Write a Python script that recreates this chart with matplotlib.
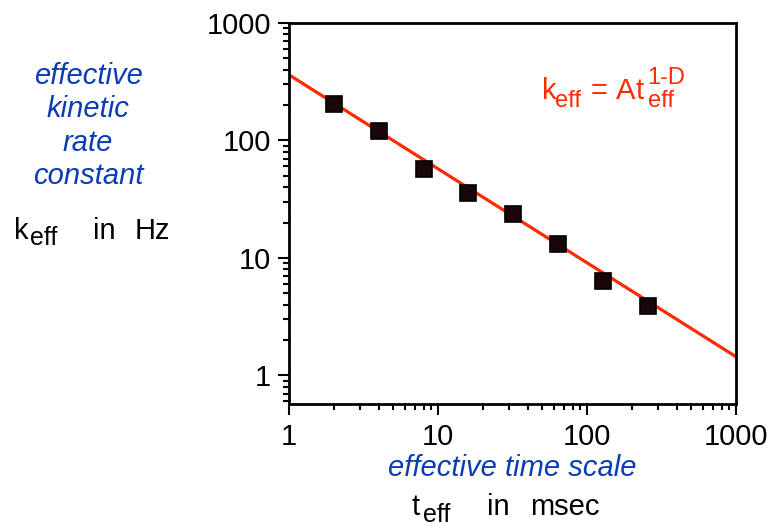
import matplotlib
matplotlib.use("Agg")
import matplotlib.pyplot as plt

# data
t_eff = [2, 4, 8, 16, 32, 64, 128, 256]          # msec
k_eff = [203, 120, 57.4, 35.8, 23.5, 13.2, 6.3, 3.9]  # Hz
fit_t = [1, 1000]
fit_k = [362, 1.44]
tick_vals = [1, 10, 100, 1000]
tick_labels = ["1", "10", "100", "1000"]
ylabel_lines = ["effective", "kinetic", "rate", "constant"]

plt.rcParams['font.family'] = ['Liberation Sans', 'DejaVu Sans']

blue = '#0a3cb4'
red = '#ff2a00'
W, H = 776, 527

def px(x, y):
    return x / W, 1 - y / H

fig = plt.figure(figsize=(W / 100, H / 100), dpi=100)
ax = fig.add_axes([289/W, 1 - 404/H, (736 - 289)/W, (404 - 23)/H])

ax.plot(fit_t, fit_k, '-', color=red, lw=2.3, zorder=2)
ax.plot(t_eff, k_eff, 's', color='#1a0606', mec='black', mew=1.2, ms=11, zorder=3)

ax.set_xscale('log'); ax.set_yscale('log')
ax.set_xlim(1, 1000)
ax.set_ylim(0.57, 1000)
ax.set_xticks(tick_vals, tick_labels)
ax.set_yticks(tick_vals, tick_labels)
ax.tick_params(which='both', direction='out', top=False, right=False, width=1.5, labelsize=21)
ax.tick_params(which='major', length=8)
ax.tick_params(which='minor', length=4.5, labelleft=False, labelbottom=False)
ax.tick_params(axis='x', pad=6)
ax.tick_params(axis='y', pad=5)
for s in ax.spines.values():
    s.set_linewidth(2)

# k_eff = A t_eff^(1-D), built from pieces
big, small = 21, 17
def t(x, y, s, size=big, **kw):
    fig.text(*px(x, y), s, fontsize=size, va='baseline', ha='left', **kw)

t(542, 99, "k", color=red)
t(555, 107, "eff", small, color=red)
t(591, 99, "=", color=red)
t(616, 99, "A", color=red)
t(636, 99, "t", color=red)
t(648, 107, "eff", small, color=red)
t(647, 84, "1-D", small, color=red)

# left label
for i, line in enumerate(ylabel_lines):
    fig.text(*px(88, 84 + 33.3 * i), line, color=blue, fontsize=21,
             style='italic', ha='center', va='baseline')
t(14, 239, "k")
t(30, 245, "eff", 18)
t(93, 239, "in")
t(135, 239, "Hz")

# bottom label
fig.text(*px(512, 476), "effective time scale", color=blue, fontsize=21,
         style='italic', ha='center', va='baseline')
t(412, 515, "t")
t(423, 522, "eff", 18)
t(487, 515, "in")
t(530, 515, "msec")

fig.savefig('out.png', dpi=100)
